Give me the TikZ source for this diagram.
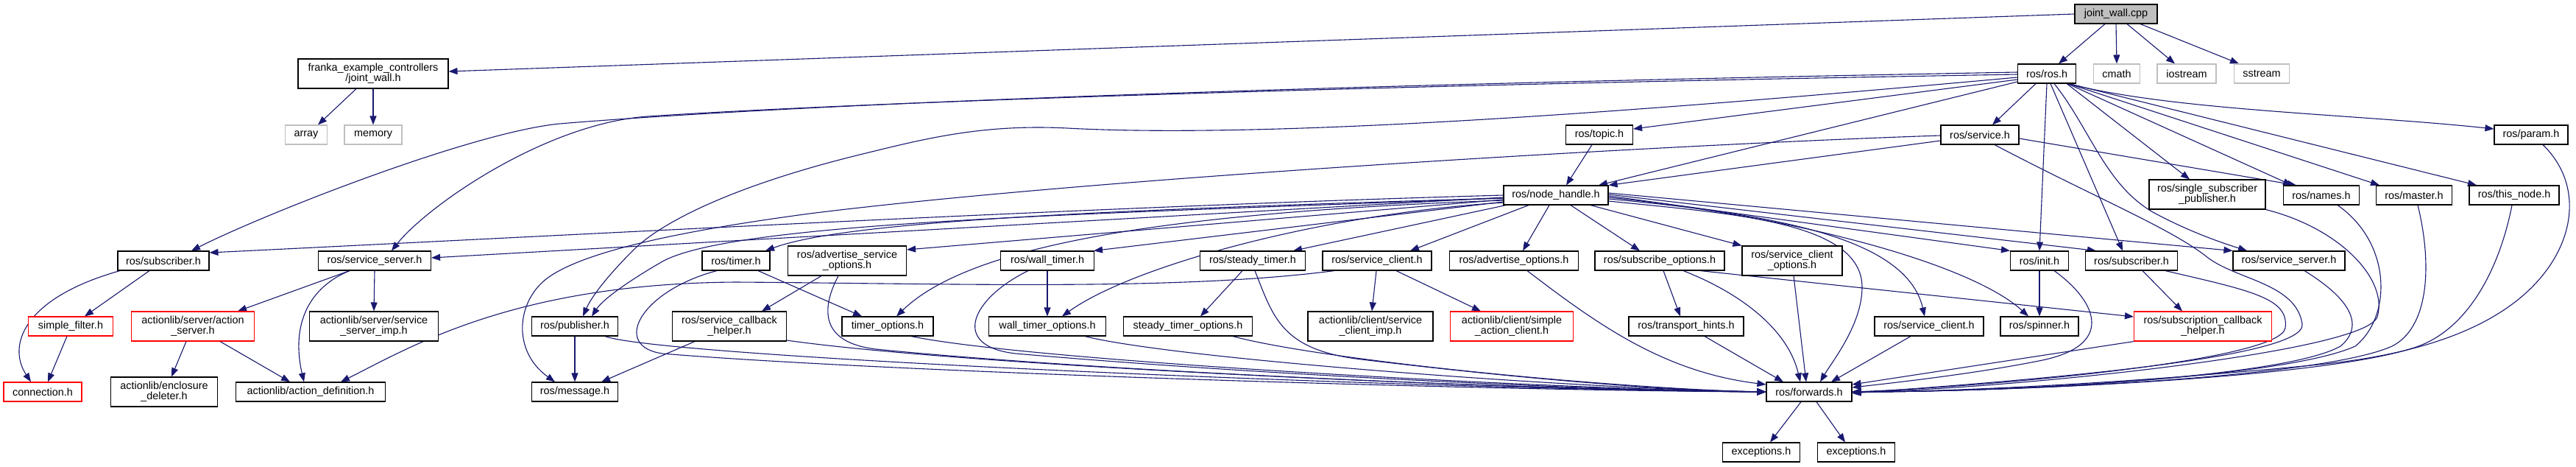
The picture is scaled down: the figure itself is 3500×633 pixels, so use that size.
\documentclass[tikz,border=0pt]{standalone}
\usepackage{fontspec}
\setmainfont{Liberation Sans}
\usetikzlibrary{arrows.meta}
\definecolor{edgecol}{HTML}{191970}
\definecolor{graybd}{HTML}{BFBFBF}
\definecolor{redbd}{HTML}{FF0000}
\definecolor{jwfill}{HTML}{BFBFBF}
\pgfdeclarelayer{bg}
\pgfsetlayers{bg,main}
\tikzset{
  box/.style={draw=black, line width=1.1pt, fill=white, minimum height=26pt,
    inner sep=0pt, align=center, text=black, font=\fontsize{14.4}{14}\selectfont},
  tallbox/.style={box, minimum height=40pt},
  graybox/.style={box, draw=graybd},
  redbox/.style={box, draw=redbd},
  redtall/.style={tallbox, draw=redbd},
  dep/.style={draw=edgecol, line width=1.1pt, -{Triangle[length=12pt,width=9pt]}},
}
\begin{document}
\begin{tikzpicture}[x=1pt,y=-1pt]
\path[use as bounding box] (0,0) rectangle (3500,633);
% row 0-1
\node[box, fill=jwfill, minimum width=112pt] (jw) at (2875,19) {joint\_wall.cpp};
\node[tallbox, minimum width=204pt] (fr) at (507,100) {franka\_example\_controllers\\/joint\_wall.h};
\node[box, minimum width=79pt] (ros) at (2781,100) {ros/ros.h};
\node[graybox, minimum width=63pt] (cmath) at (2876,100) {cmath};
\node[graybox, minimum width=80pt] (iostream) at (2971,100) {iostream};
\node[graybox, minimum width=75pt] (sstream) at (3073,100) {sstream};
% row 2
\node[graybox, minimum width=57pt] (array) at (416,183) {array};
\node[graybox, minimum width=78pt] (memory) at (507,183) {memory};
\node[box, minimum width=91pt] (topic) at (2173,183) {ros/topic.h};
\node[box, minimum width=106pt] (service) at (2690,183) {ros/service.h};
\node[box, minimum width=100pt] (param) at (3439,183) {ros/param.h};
% row 3
\node[box, minimum width=142pt] (nh) at (2114,265) {ros/node\_handle.h};
\node[tallbox, minimum width=158pt] (ssp) at (2999,264) {ros/single\_subscriber\\\_publisher.h};
\node[box, minimum width=103pt] (names) at (3154,265) {ros/names.h};
\node[box, minimum width=103pt] (master) at (3280,265) {ros/master.h};
\node[box, minimum width=122pt] (thisnode) at (3416,265) {ros/this\_node.h};
% row 4
\node[box, minimum width=124pt] (subL) at (222,354) {ros/subscriber.h};
\node[box, minimum width=153pt] (ssL) at (509,354) {ros/service\_server.h};
\node[box, minimum width=92pt] (timer) at (1000,354) {ros/timer.h};
\node[tallbox, minimum width=161pt] (aso) at (1151,354) {ros/advertise\_service\\\_options.h};
\node[box, minimum width=127pt] (wt) at (1423,354) {ros/wall\_timer.h};
\node[box, minimum width=143pt] (st) at (1702,354) {ros/steady\_timer.h};
\node[box, minimum width=148pt] (scU) at (1871,354) {ros/service\_client.h};
\node[box, minimum width=175pt] (ao) at (2057,354) {ros/advertise\_options.h};
\node[box, minimum width=176pt] (so) at (2255,354) {ros/subscribe\_options.h};
\node[tallbox, minimum width=136pt] (sco) at (2435,354) {ros/service\_client\\\_options.h};
\node[box, minimum width=79pt] (init) at (2771,354) {ros/init.h};
\node[box, minimum width=125pt] (subR) at (2896,354) {ros/subscriber.h};
\node[box, minimum width=152pt] (ssR) at (3110,354) {ros/service\_server.h};
% row 5
\node[redbox, minimum width=115pt] (sf) at (96,443) {simple\_filter.h};
\node[redtall, minimum width=167pt] (as) at (262,443) {actionlib/server/action\\\_server.h};
\node[tallbox, minimum width=175pt] (ssi) at (508,443) {actionlib/server/service\\\_server\_imp.h};
\node[box, minimum width=117pt] (pub) at (781,443) {ros/publisher.h};
\node[tallbox, minimum width=155pt] (scb) at (991,443) {ros/service\_callback\\\_helper.h};
\node[box, minimum width=124pt] (to) at (1206,443) {timer\_options.h};
\node[box, minimum width=159pt] (wto) at (1423,443) {wall\_timer\_options.h};
\node[box, minimum width=175pt] (sto) at (1614,443) {steady\_timer\_options.h};
\node[tallbox, minimum width=170pt] (csci) at (1862,443) {actionlib/client/service\\\_client\_imp.h};
\node[redtall, minimum width=167pt] (sac) at (2054,443) {actionlib/client/simple\\\_action\_client.h};
\node[box, minimum width=156pt] (th) at (2291,443) {ros/transport\_hints.h};
\node[box, minimum width=148pt] (scL) at (2621,443) {ros/service\_client.h};
\node[box, minimum width=106pt] (spin) at (2771,443) {ros/spinner.h};
\node[redtall, minimum width=187pt] (subcb) at (2993,443) {ros/subscription\_callback\\\_helper.h};
% row 6-7
\node[redbox, minimum width=106pt] (conn) at (58,532) {connection.h};
\node[tallbox, minimum width=145pt] (ed) at (223,532) {actionlib/enclosure\\\_deleter.h};
\node[box, minimum width=203pt] (ad) at (422,532) {actionlib/action\_definition.h};
\node[box, minimum width=117pt] (msg) at (781,532) {ros/message.h};
\node[box, minimum width=116pt] (fw) at (2458,532) {ros/forwards.h};
\node[box, minimum width=105pt] (ex1) at (2393,614) {exceptions.h};
\node[box, minimum width=105pt] (ex2) at (2522,614) {exceptions.h};

\begin{pgfonlayer}{bg}
\fill[white] (0,0) rectangle (3500,633);
% top
\draw[dep] (jw.west) -- ([yshift=3pt]fr.east);
\draw[dep] ([xshift=-15pt]jw.south) -- ([xshift=16pt]ros.north);
\draw[dep] (jw.south) -- (cmath.north);
\draw[dep] ([xshift=15pt]jw.south) -- ([xshift=-16pt]iostream.north);
\draw[dep] ([xshift=33pt]jw.south) -- ([xshift=-31pt]sstream.north);
\draw[dep] ([xshift=-23pt]fr.south) -- ([xshift=16pt]array.north);
\draw[dep] (fr.south) -- (memory.north);
% ros.h
\draw[dep] ([yshift=-8pt]ros.west) -- ([yshift=8pt]topic.east);
\draw[dep] ([yshift=-11pt]ros.west) -- ([xshift=58pt]nh.north);
\draw[dep] ([xshift=-15pt]ros.south) -- ([xshift=17pt]service.north);
\draw[dep] ([yshift=2pt]ros.west) .. controls (1800,115) and (1100,140) .. (760,168)
   .. controls (640,180) and (360,290) .. ([xshift=38pt]subL.north);
\draw[dep] ([yshift=-1pt]ros.west) .. controls (1800,117) and (1150,140) .. (880,158)
   .. controls (740,168) and (580,280) .. ([xshift=23pt]ssL.north);
\draw[dep] ([yshift=-5pt]ros.west) .. controls (2300,145) and (1750,190) .. (1450,174)
   .. controls (1330,168) and (1250,190) .. (1160,212)
   .. controls (1000,252) and (900,300) .. (860,340)
   .. controls (830,370) and (805,400) .. ([xshift=11pt]pub.north);
\draw[dep] ([xshift=-11pt]ros.south east) .. controls (2950,150) and (3200,155) .. ([yshift=8pt]param.west);
\draw[dep] ([xshift=-10pt]ros.south east) -- ([xshift=-51pt]thisnode.north);
\draw[dep] ([xshift=-11pt]ros.south east) -- ([xshift=-47pt]master.north);
\draw[dep] ([xshift=-12pt]ros.south east) -- ([xshift=-40pt]names.north);
\draw[dep] ([xshift=-13pt]ros.south east) -- ([xshift=-24pt]ssp.north);
\draw[dep] ([xshift=10pt]ros.south) .. controls (2840,175) and (2860,250) .. (2925,288)
   .. controls (2975,315) and (3020,330) .. ([xshift=-57pt]ssR.north);
\draw[dep] (ros.south) -- (init.north);
\draw[dep] ([xshift=5pt]ros.south) -- ([xshift=-12pt]subR.north);
% service.h
\draw[dep] ([yshift=-8pt]service.west) -- (nh.north east);
\draw[dep] ([yshift=-5pt]service.east) -- ([xshift=-34pt]names.north);
\draw[dep] ([yshift=-1pt]service.west) .. controls (2300,195) and (1500,240) .. (1100,290)
   .. controls (950,310) and (780,340) .. (735,385)
   .. controls (700,420) and (700,480) .. ([xshift=-27pt]msg.north);
\draw[dep] ([xshift=20pt]service.south) .. controls (2850,270) and (2950,310) .. (3000,350)
   .. controls (3040,380) and (3120,385) .. (3128,440)
   .. controls (3135,490) and (2700,520) .. ([yshift=-2pt]fw.east);
% topic.h
\draw[dep] ([xshift=-10pt]topic.south) -- ([xshift=14pt]nh.north);
% node_handle.h
\draw[dep] (nh.west) .. controls (1500,280) and (800,318) .. ([yshift=11pt]subL.east);
\draw[dep] ([yshift=-3pt]nh.west) -- ([yshift=4pt]ssL.east);
\draw[dep] ([yshift=-4pt]nh.west) .. controls (1500,285) and (1150,300) .. ([xshift=40pt]timer.north);
\draw[dep] ([yshift=-4pt]nh.west) .. controls (1500,290) and (1000,300) .. (900,355)
   .. controls (860,378) and (820,405) .. ([xshift=23pt]pub.north);
\draw[dep] ([yshift=-6pt]nh.west) -- ([yshift=15pt]aso.east);
\draw[dep] ([yshift=-7pt]nh.west) .. controls (1600,288) and (1320,330) .. ([xshift=12pt]to.north);
\draw[dep] ([yshift=-9pt]nh.west) -- ([xshift=63pt]wt.north);
\draw[dep] ([yshift=-10pt]nh.west) .. controls (1800,290) and (1540,360) .. ([xshift=20pt]wto.north);
\draw[dep] ([xshift=-68pt]nh.south) -- ([xshift=55pt]st.north);
\draw[dep] ([xshift=-37pt]nh.south) -- ([xshift=45pt]scU.north);
\draw[dep] ([xshift=-9pt]nh.south) -- ([xshift=12pt]ao.north);
\draw[dep] ([xshift=20pt]nh.south) -- ([xshift=-27pt]so.north);
\draw[dep] ([xshift=47pt]nh.south) -- (sco.north west);
\draw[dep] ([yshift=-8pt]nh.east) .. controls (2350,290) and (2530,300) .. (2530,390)
   .. controls (2530,440) and (2490,490) .. ([xshift=15pt]fw.north);
\draw[dep] ([yshift=-5pt]nh.east) .. controls (2400,290) and (2590,320) .. ([xshift=-6pt]scL.north);
\draw[dep] ([yshift=-3pt]nh.east) .. controls (2450,295) and (2680,360) .. ([xshift=-15pt]spin.north);
\draw[dep] ([yshift=-1pt]nh.east) -- (init.north west);
\draw[dep] ([yshift=1pt]nh.east) -- ([xshift=-48pt]subR.north);
\draw[dep] ([yshift=3pt]nh.east) -- (ssR.north west);
% left group
\draw[dep] ([xshift=-19pt]subL.south) -- ([xshift=19pt]sf.north);
\draw[dep] ([xshift=-59pt]subL.south) .. controls (30,405) and (10,470) .. ([xshift=-16pt]conn.north);
\draw[dep] ([xshift=-5pt]sf.south) -- ([xshift=7pt]conn.north);
\draw[dep] ([xshift=-34pt]ssL.south) -- ([xshift=61pt]as.north);
\draw[dep] ([xshift=-34pt]ssL.south) .. controls (420,390) and (395,440) .. ([xshift=-9pt]ad.north);
\draw[dep] (ssL.south) -- (ssi.north);
\draw[dep] ([xshift=-9pt]as.south) -- ([xshift=10pt]ed.north);
\draw[dep] ([xshift=37pt]as.south) -- ([xshift=-28pt]ad.north);
\draw[dep] ([xshift=-58pt]scU.south) .. controls (1600,395) and (1300,385) .. (1000,383)
   .. controls (700,385) and (560,470) .. ([xshift=41pt]ad.north);
\draw[dep] ([xshift=-1pt]scU.south) -- ([xshift=2pt]csci.north);
\draw[dep] ([xshift=26pt]scU.south) -- ([xshift=-42pt]sac.north);
% middle group
\draw[dep] (pub.south) -- (msg.north);
\draw[dep] ([xshift=-47pt]scb.south) -- ([xshift=36pt]msg.north);
\draw[dep] ([xshift=-35pt]aso.south) -- ([xshift=44pt]scb.north);
\draw[dep] ([xshift=30pt]timer.south) -- ([xshift=-35pt]to.north);
\draw[dep] (wt.south) -- (wto.north);
\draw[dep] ([xshift=-14pt]st.south) -- ([xshift=17pt]sto.north);
\draw[dep] ([xshift=5pt]so.south) -- ([xshift=-8pt]th.north);
\draw[dep] ([xshift=55pt]so.south) -- ([yshift=13pt]subcb.west);
\draw[dep] ([xshift=15pt]subR.south) -- ([xshift=-28pt]subcb.north);
\draw[dep] (init.south) -- (spin.north);
% into forwards from the left
\draw[dep] ([xshift=41pt]pub.south) .. controls (900,485) and (1900,528) .. (fw.west);
\draw[dep] ([xshift=-26pt]timer.south) .. controls (870,395) and (830,470) .. (900,480)
   .. controls (1200,505) and (2000,530) .. (fw.west);
\draw[dep] ([yshift=-19pt]scb.east) .. controls (1300,495) and (2000,528) .. (fw.west);
\draw[dep] ([xshift=-12pt]aso.south) .. controls (1115,420) and (1115,465) .. (1190,474)
   .. controls (1500,505) and (2100,530) .. (fw.west);
\draw[dep] ([xshift=32pt]to.south) .. controls (1400,490) and (2100,528) .. (fw.west);
\draw[dep] ([xshift=-26pt]wt.south) .. controls (1320,405) and (1290,470) .. (1380,480)
   .. controls (1700,508) and (2150,530) .. (fw.west);
\draw[dep] ([xshift=51pt]wto.south) .. controls (1600,488) and (2150,528) .. (fw.west);
\draw[dep] ([xshift=3pt]st.south) .. controls (1730,430) and (1740,475) .. (1850,488)
   .. controls (2050,512) and (2250,530) .. (fw.west);
\draw[dep] ([xshift=61pt]sto.south) .. controls (1800,490) and (2200,528) .. (fw.west);
\draw[dep] ([xshift=18pt]ao.south) .. controls (2170,440) and (2260,505) .. ([yshift=10pt]fw.west);
% into forwards from the top
\draw[dep] ([xshift=25pt]th.south) -- ([xshift=-35pt]fw.north);
\draw[dep] ([xshift=32pt]so.south) .. controls (2370,400) and (2430,450) .. ([xshift=-12pt]fw.north);
\draw[dep] ([xshift=2pt]sco.south) -- ([xshift=-4pt]fw.north);
\draw[dep] ([xshift=-25pt]scL.south) -- ([xshift=30pt]fw.north);
% into forwards from the right
\draw[dep] (subcb.south west) -- ([yshift=10pt]fw.east);
\draw[dep] ([xshift=20pt]init.south) .. controls (2850,410) and (2875,470) .. (2770,490)
   .. controls (2680,508) and (2570,520) .. ([yshift=6pt]fw.east);
\draw[dep] ([xshift=46pt]subR.south) .. controls (3060,395) and (3110,405) .. (3105,445)
   .. controls (3100,490) and (2700,525) .. (fw.east);
\draw[dep] ([xshift=21pt]ssR.south) .. controls (3200,410) and (3210,445) .. (3180,470)
   .. controls (3100,515) and (2700,532) .. (fw.east);
\draw[dep] (ssp.south east) .. controls (3180,310) and (3245,380) .. (3230,430)
   .. controls (3215,480) and (2700,530) .. (fw.east);
\draw[dep] ([xshift=22pt]names.south) .. controls (3250,330) and (3250,430) .. (3200,470)
   .. controls (3100,515) and (2700,532) .. (fw.east);
\draw[dep] ([xshift=5pt]master.south) .. controls (3305,360) and (3300,445) .. (3250,470)
   .. controls (3150,515) and (2700,532) .. (fw.east);
\draw[dep] ([xshift=-3pt]thisnode.south) .. controls (3395,370) and (3350,450) .. (3280,472)
   .. controls (3150,515) and (2700,532) .. (fw.east);
\draw[dep] ([xshift=16pt]param.south) .. controls (3510,250) and (3500,330) .. (3440,390)
   .. controls (3370,460) and (3250,485) .. (3150,495)
   .. controls (2900,520) and (2650,532) .. (fw.east);
% forwards
\draw[dep] ([xshift=-11pt]fw.south) -- ([xshift=12pt]ex1.north);
\draw[dep] ([xshift=10pt]fw.south) -- ([xshift=-15pt]ex2.north);
\end{pgfonlayer}
\end{tikzpicture}
\end{document}
